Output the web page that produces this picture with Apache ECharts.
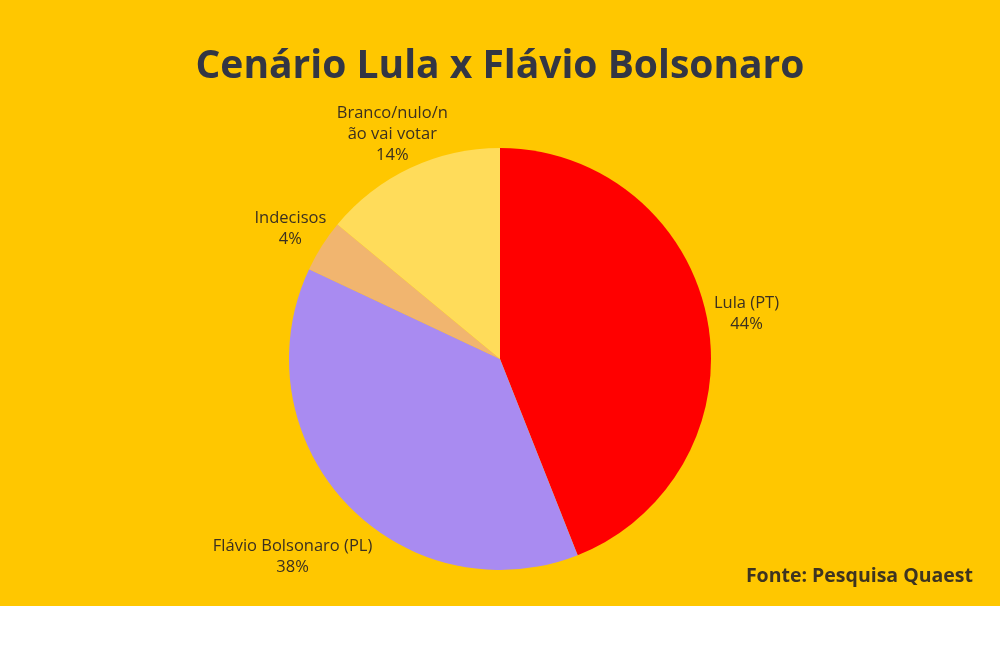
<!DOCTYPE html>
<html>
<head>
<meta charset="utf-8">
<script src="https://cdn.jsdelivr.net/npm/echarts@6/dist/echarts.min.js"></script>
<style>
  html, body { margin: 0; padding: 0; background: #ffffff; }
  #main { width: 1000px; height: 606px; background: #FFC700; }
</style>
</head>
<body>
<div id="main"></div>
<script>
// Data
const categories = ['Lula (PT)', 'Flávio Bolsonaro (PL)', 'Indecisos', 'Branco/nulo/não vai votar'];
const values = [44, 38, 4, 14];
const colors = ['#FF0000', '#A98BF1', '#F1B56F', '#FFDC5A'];

let myChart = echarts.init(document.getElementById('main'));

let pieData = categories.map((name, i) => ({
    name: name,
    value: values[i],
    itemStyle: { color: colors[i] }
}));

// Transparent copy of the pie, only used to place the labels on the mid-angle ray
let labelData = categories.map((name, i) => ({
    name: name,
    value: values[i],
    itemStyle: { color: 'transparent' }
}));
// the long label wraps like in the original
labelData[3].label = { width: 112, overflow: 'breakAll' };

// small nudges of the labels (dataIndex -> [dx, dy])
let labelShift = { 0: [-2, 2], 1: [-23, 25], 2: [4, 5], 3: [0, 4] };

let option = {
    title: {
        text: 'Cenário Lula x Flávio Bolsonaro',
        left: 'center',
        top: 42,
        textStyle: {
            fontFamily: 'Open Sans',
            fontSize: 39,
            fontWeight: 'bold',
            color: '#333644'
        }
    },
    graphic: [
        {
            type: 'text',
            right: 27,
            top: 566,
            style: {
                text: 'Fonte: Pesquisa Quaest',
                font: 'bold 19.5px "Open Sans"',
                fill: '#3e3420'
            }
        }
    ],
    series: [
        {
            type: 'pie',
            center: [500, 359],
            radius: 211,
            startAngle: 90,
            clockwise: true,
            silent: true,
            label: { show: false },
            labelLine: { show: false },
            data: pieData
        },
        {
            type: 'pie',
            center: [500, 359],
            radius: [0, 500],
            startAngle: 90,
            clockwise: true,
            silent: true,
            z: 3,
            label: {
                show: true,
                position: 'inside',
                formatter: '{b}\n{c}%',
                fontFamily: 'Open Sans',
                fontSize: 16.5,
                lineHeight: 21,
                color: '#3b3020',
                align: 'center'
            },
            labelLayout: (params) => {
                let s = labelShift[params.dataIndex] || [0, 0];
                return { dx: s[0], dy: s[1] };
            },
            labelLine: { show: false },
            data: labelData
        }
    ]
};

option && myChart.setOption(option);
</script>
</body>
</html>
